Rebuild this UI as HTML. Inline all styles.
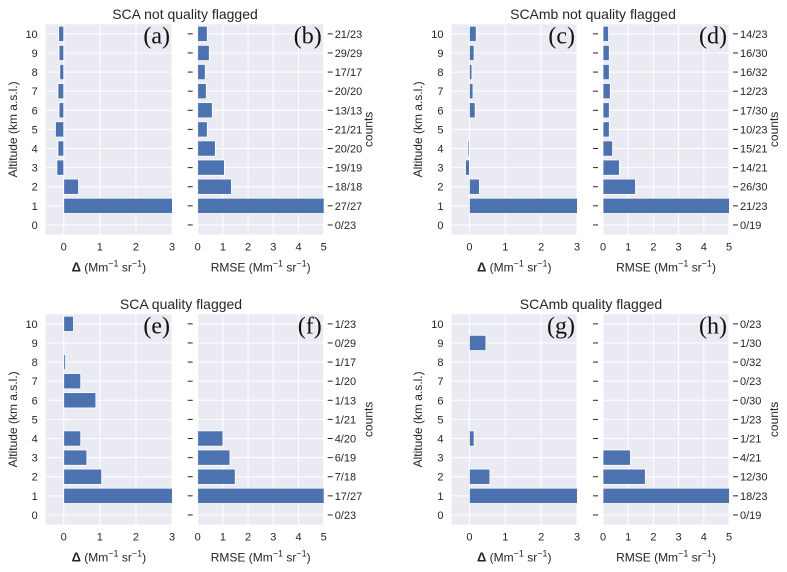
<!DOCTYPE html>
<html><head><meta charset="utf-8"><style>
body{margin:0;background:#fff;}
svg{display:block;font-family:"Liberation Sans",sans-serif;}
</style></head><body>
<svg id="chart" width="787" height="572" viewBox="0 0 787 572" xmlns="http://www.w3.org/2000/svg"></svg>
<script>
const altitudes = [0,1,2,3,4,5,6,7,8,9,10];
const deltaA = [null,3.5,0.41,-0.19,-0.16,-0.23,-0.13,-0.16,-0.11,-0.13,-0.14];
const rmseB  = [null,6,1.34,1.06,0.70,0.38,0.58,0.34,0.30,0.46,0.38];
const countsB = ["0/23","27/27","18/18","19/19","20/20","21/21","13/13","20/20","17/17","29/29","21/23"];
const deltaC = [null,3.5,0.28,-0.11,-0.04,null,0.16,0.10,0.07,0.13,0.19];
const rmseD  = [null,6,1.29,0.65,0.38,0.25,0.25,0.29,0.25,0.25,0.22];
const countsD = ["0/19","21/23","26/30","14/21","15/21","10/23","17/30","12/23","16/32","16/30","14/23"];
const deltaE = [null,3.5,1.05,0.64,0.47,null,0.89,0.47,0.05,null,0.27];
const rmseF  = [null,6,1.49,1.28,1.0,null,null,null,null,null,null];
const countsF = ["0/23","17/27","7/18","6/19","4/20","1/21","1/13","1/20","1/17","0/29","1/23"];
const deltaG = [null,3.5,0.57,null,0.13,-0.02,null,null,null,0.46,null];
const rmseH  = [null,6,1.68,1.09,null,null,null,null,null,null,null];
const countsH = ["0/19","18/23","12/30","4/21","1/21","1/23","0/30","0/23","0/32","1/30","0/23"];
const deltaTicks = [0,1,2,3];
const rmseTicks = [0,1,2,3,4,5];

const NS="http://www.w3.org/2000/svg";
const svg=document.getElementById('chart');
function mk(tag,attrs,parent){const e=document.createElementNS(NS,tag);for(const k in attrs)e.setAttribute(k,attrs[k]);(parent||svg).appendChild(e);return e;}

function panel(x0,x1,y0,y1,xmin,xmax,vals,ticks,letter,opts){
  const g=mk('g',{});
  
  
  const xs=v=>x0+(v-xmin)/(xmax-xmin)*(x1-x0);
  const ys=v=>y1-(v+0.5)/11*(y1-y0);
  const clipId='clip-'+letter;
  const cp=mk('clipPath',{id:clipId},g); mk('rect',{x:x0,y:y0,width:x1-x0,height:y1-y0},cp);
  const bg=mk('rect',{x:x0,y:y0,width:x1-x0,height:y1-y0,fill:'#EAEAF2'},g);
  
  
  ticks.forEach(t=>{mk('line',{x1:xs(t),x2:xs(t),y1:y0,y2:y1,stroke:'#fff','stroke-width':1},g);});
  altitudes.forEach(a=>{mk('line',{x1:x0,x2:x1,y1:ys(a),y2:ys(a),stroke:'#fff','stroke-width':1},g);});
  const bars=mk('g',{'clip-path':'url(#'+clipId+')'},g);
  altitudes.forEach((a,i)=>{
    const v=vals[i]; if(v===null||v===undefined) return;
    const xa=xs(Math.min(0,v)), xb=xs(Math.max(0,v));
    const r=mk('rect',{x:xa,y:ys(a+0.4),width:Math.max(0.5,xb-xa),height:ys(a-0.4)-ys(a+0.4),fill:'#4C72B0',stroke:'#fff','stroke-width':0.8},bars);
    
    
  });
  ticks.forEach(t=>{const tx=mk('text',{x:xs(t),y:y1+16,'text-anchor':'middle','font-size':11,fill:'#262626'},g);tx.textContent=t;
    
    });
  if(opts.yLabels){altitudes.forEach(a=>{const tx=mk('text',{x:x0-8,y:ys(a)+4,'text-anchor':'end','font-size':11,fill:'#262626'},g);tx.textContent=a;
    
    });}
  else{altitudes.forEach(a=>{mk('line',{x1:x0-10,x2:x0-5,y1:ys(a),y2:ys(a),stroke:'#262626','stroke-width':1},g);});}
  if(opts.counts){altitudes.forEach((a,i)=>{mk('line',{x1:x1+4,x2:x1+9,y1:ys(a),y2:ys(a),stroke:'#262626','stroke-width':1},g);
    const tx=mk('text',{x:x1+11,y:ys(a)+4,'font-size':11,fill:'#262626'},g);tx.textContent=opts.counts[i];
    
    });
    const c=mk('text',{x:0,y:0,'font-size':12,fill:'#262626','text-anchor':'middle',transform:`translate(${x1+49},${(y0+y1)/2}) rotate(-90)`},g);c.textContent='counts';
    
    }
  const lt=mk('text',{x:x1-2,y:y0+19,'text-anchor':'end','font-size':24,'font-family':'"Liberation Serif",serif',fill:'#111'},g);lt.textContent='('+letter+')';
  
  
  const xt=mk('text',{x:(x0+x1)/2,y:y1+37,'text-anchor':'middle','font-size':12,fill:'#262626'},g);
  if(opts.delta){xt.innerHTML='<tspan font-weight="bold" font-size="13">Δ</tspan> (Mm<tspan dy="-5" font-size="9">−1</tspan><tspan dy="5"> sr</tspan><tspan dy="-5" font-size="9">−1</tspan><tspan dy="5">)</tspan>';}
  else{xt.innerHTML='RMSE  (Mm<tspan dy="-5" font-size="9">−1</tspan><tspan dy="5"> sr</tspan><tspan dy="-5" font-size="9">−1</tspan><tspan dy="5">)</tspan>';}
  
  
  if(opts.yTitle){const yt=mk('text',{x:0,y:0,'font-size':12,fill:'#262626','text-anchor':'middle',transform:`translate(${opts.yTitle},${(y0+y1)/2}) rotate(-90)`},g);yt.textContent='Altitude (km a.s.l.)';
    
    }
}
function title(x,y,t,name){const e=mk('text',{x:x,y:y,'text-anchor':'middle','font-size':14,fill:'#262626'});e.textContent=t;
  
  }

const T0=24.3,T1=234.5,B0=314.3,B1=524.5;
panel(45.7,172,T0,T1,-0.5,3,deltaA,deltaTicks,'a',{yLabels:true,delta:true,yTitle:17});
panel(197.7,323.7,T0,T1,0,5,rmseB,rmseTicks,'b',{counts:countsB});
panel(451.5,577,T0,T1,-0.5,3,deltaC,deltaTicks,'c',{yLabels:true,delta:true,yTitle:422});
panel(603,729,T0,T1,0,5,rmseD,rmseTicks,'d',{counts:countsD});
panel(45.7,172,B0,B1,-0.5,3,deltaE,deltaTicks,'e',{yLabels:true,delta:true,yTitle:17});
panel(197.7,323.7,B0,B1,0,5,rmseF,rmseTicks,'f',{counts:countsF});
panel(451.5,577,B0,B1,-0.5,3,deltaG,deltaTicks,'g',{yLabels:true,delta:true,yTitle:422});
panel(603,729,B0,B1,0,5,rmseH,rmseTicks,'h',{counts:countsH});
title(185,19,'SCA not quality flagged','title-sca-not-flagged');
title(593,19,'SCAmb not quality flagged','title-scamb-not-flagged');
title(181,309,'SCA quality flagged','title-sca-flagged');
title(591,309,'SCAmb quality flagged','title-scamb-flagged');
</script>
</body></html>
